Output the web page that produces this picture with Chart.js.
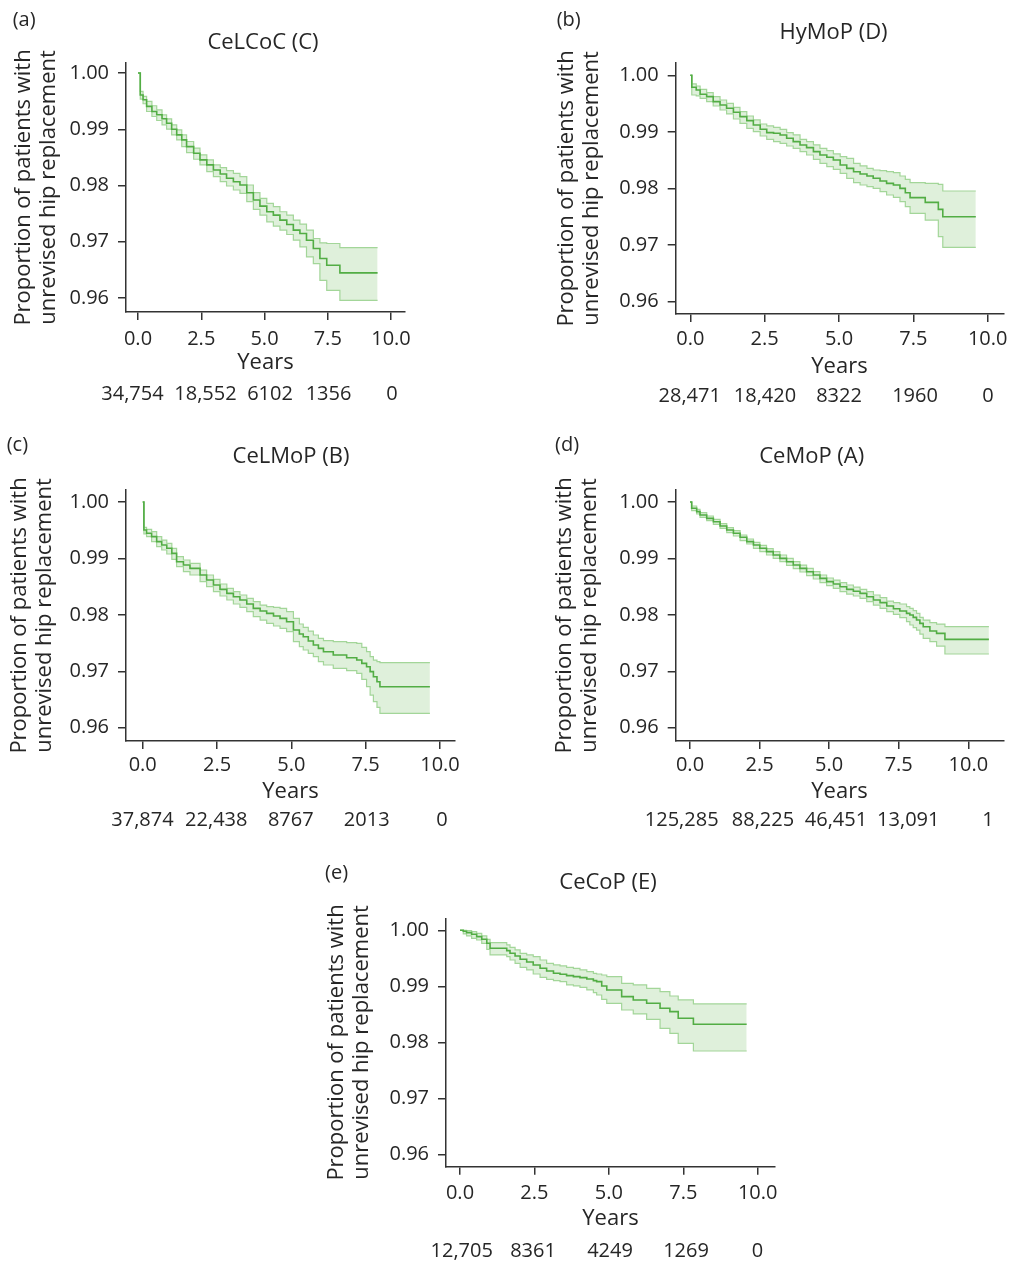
<!DOCTYPE html>
<html>
<head>
<meta charset="utf-8">
<script src="https://cdn.jsdelivr.net/npm/chart.js@4.4.0/dist/chart.umd.min.js"></script>
<style>
html, body { margin: 0; background: #fff; }
body { width: 1012px; height: 1263px; position: relative; overflow: hidden; }
canvas { position: absolute; }
</style>
</head>
<body>
<script>
// panel labels and titles
const panelLetters = ["(a)", "(b)", "(c)", "(d)", "(e)"];
const panelTitles = ["CeLCoC (C)", "HyMoP (D)", "CeLMoP (B)", "CeMoP (A)", "CeCoP (E)"];

// axis ticks
const yearTicks = [0, 2.5, 5, 7.5, 10];
const survTicks = [0.96, 0.97, 0.98, 0.99, 1.00];

// numbers at risk (under 0, 2.5, 5, 7.5, 10 years)
const atRiskA = [34754, 18552, 6102, 1356, 0];
const atRiskB = [28471, 18420, 8322, 1960, 0];
const atRiskC = [37874, 22438, 8767, 2013, 0];
const atRiskD = [125285, 88225, 46451, 13091, 1];
const atRiskE = [12705, 8361, 4249, 1269, 0];

// (a) CeLCoC (C)
const yearsA = [0, 0.09, 0.2, 0.34, 0.55, 0.74, 0.95, 1.13, 1.33, 1.53, 1.73, 1.92, 2.2, 2.45, 2.72, 2.98, 3.25, 3.5, 3.77, 4.03, 4.3, 4.56, 4.82, 5.09, 5.35, 5.61, 5.88, 6.14, 6.4, 6.66, 6.93, 7.19, 7.46, 7.98, 9.47];
const survA = [1, 0.9961, 0.99525, 0.99406, 0.99316, 0.99257, 0.99186, 0.99108, 0.99001, 0.989, 0.98811, 0.98692, 0.98574, 0.98455, 0.98366, 0.98276, 0.98205, 0.98128, 0.98068, 0.98009, 0.97872, 0.97741, 0.97634, 0.97533, 0.97474, 0.97385, 0.97308, 0.97207, 0.97147, 0.97028, 0.9688, 0.96701, 0.96582, 0.96446, 0.96446];
const upperA = [1, 0.99673, 0.99584, 0.99495, 0.99418, 0.99346, 0.99257, 0.99186, 0.99079, 0.9899, 0.989, 0.98782, 0.98663, 0.98544, 0.98455, 0.98366, 0.98318, 0.98264, 0.98217, 0.98157, 0.98009, 0.97872, 0.97771, 0.97682, 0.97623, 0.97533, 0.97474, 0.97385, 0.97314, 0.97207, 0.97058, 0.96981, 0.96969, 0.96897, 0.96897];
const lowerA = [1, 0.99536, 0.99453, 0.99316, 0.99227, 0.99156, 0.99079, 0.99001, 0.989, 0.98811, 0.98692, 0.98585, 0.98467, 0.98366, 0.98247, 0.98158, 0.98068, 0.97991, 0.9792, 0.9786, 0.97712, 0.97575, 0.97474, 0.97355, 0.97278, 0.97207, 0.97129, 0.97028, 0.96909, 0.96731, 0.96612, 0.96315, 0.96137, 0.95958, 0.95958];

// (b) HyMoP (D)
const yearsB = [0, 0.05, 0.2, 0.33, 0.55, 0.77, 1.0, 1.22, 1.45, 1.67, 1.9, 2.12, 2.35, 2.57, 2.8, 3.02, 3.24, 3.46, 3.69, 3.91, 4.14, 4.36, 4.59, 4.81, 5.04, 5.26, 5.49, 5.71, 5.94, 6.15, 6.38, 6.6, 6.83, 7.05, 7.23, 7.39, 7.9, 8.34, 8.49, 9.6];
const survB = [1, 0.99788, 0.99741, 0.99664, 0.99623, 0.99535, 0.99476, 0.99417, 0.99346, 0.9927, 0.99199, 0.99122, 0.99046, 0.98987, 0.98975, 0.98946, 0.98887, 0.98828, 0.98769, 0.98722, 0.98651, 0.98592, 0.98551, 0.98504, 0.98415, 0.98356, 0.98297, 0.98256, 0.98221, 0.9818, 0.98133, 0.98091, 0.98062, 0.98003, 0.97926, 0.97838, 0.97755, 0.97632, 0.97502, 0.97502];
const upperB = [1, 0.99847, 0.99811, 0.99753, 0.99694, 0.99623, 0.99564, 0.99505, 0.99434, 0.99358, 0.99281, 0.99211, 0.9914, 0.99105, 0.99081, 0.99046, 0.98987, 0.98946, 0.98869, 0.98828, 0.98769, 0.9871, 0.98669, 0.9861, 0.98563, 0.98533, 0.98445, 0.98398, 0.98356, 0.98327, 0.98315, 0.98297, 0.9828, 0.98221, 0.98162, 0.98103, 0.98091, 0.98074, 0.97956, 0.97956];
const lowerB = [1, 0.99652, 0.99635, 0.99594, 0.99535, 0.99458, 0.99387, 0.99317, 0.99228, 0.99152, 0.99063, 0.99004, 0.98928, 0.98869, 0.98828, 0.98798, 0.98751, 0.9871, 0.98651, 0.98592, 0.98515, 0.98445, 0.98386, 0.98339, 0.98268, 0.9818, 0.98103, 0.98062, 0.98032, 0.98003, 0.97944, 0.97885, 0.97844, 0.97767, 0.97679, 0.97561, 0.97443, 0.97149, 0.9696, 0.9696];

// (c) CeLMoP (B)
const yearsC = [0, 0.04, 0.13, 0.3, 0.47, 0.64, 0.81, 0.98, 1.14, 1.37, 1.59, 1.93, 2.15, 2.38, 2.6, 2.83, 3.05, 3.27, 3.5, 3.72, 3.95, 4.17, 4.4, 4.62, 4.84, 5.07, 5.27, 5.4, 5.57, 5.74, 5.91, 6.08, 6.41, 6.86, 7.2, 7.37, 7.53, 7.65, 7.76, 7.88, 7.98, 9.66];
const survC = [1, 0.99504, 0.99445, 0.99386, 0.99297, 0.99238, 0.99179, 0.9909, 0.98942, 0.98883, 0.98824, 0.98706, 0.98617, 0.98529, 0.98452, 0.98381, 0.98322, 0.98263, 0.98192, 0.98115, 0.98068, 0.98027, 0.97979, 0.97938, 0.97879, 0.97731, 0.9766, 0.97613, 0.97536, 0.97465, 0.97406, 0.97347, 0.97288, 0.97241, 0.97199, 0.9714, 0.97081, 0.96993, 0.96904, 0.96815, 0.96727, 0.96727];
const upperC = [1, 0.99551, 0.99516, 0.99474, 0.99386, 0.99326, 0.99267, 0.99179, 0.99031, 0.98972, 0.98913, 0.98795, 0.98706, 0.98629, 0.98547, 0.9847, 0.98411, 0.98352, 0.98292, 0.98233, 0.98174, 0.98145, 0.98133, 0.98115, 0.98056, 0.97938, 0.97838, 0.97778, 0.97713, 0.97643, 0.97583, 0.97542, 0.97524, 0.97507, 0.97495, 0.97424, 0.97347, 0.97258, 0.97199, 0.9717, 0.97152, 0.97152];
const lowerC = [1, 0.99433, 0.99386, 0.99297, 0.99208, 0.99149, 0.99078, 0.98984, 0.98854, 0.98765, 0.98706, 0.98588, 0.98499, 0.98411, 0.98334, 0.98263, 0.98192, 0.98133, 0.98056, 0.97968, 0.97908, 0.97849, 0.97802, 0.97761, 0.97702, 0.97524, 0.97436, 0.97377, 0.97318, 0.97258, 0.9717, 0.97111, 0.97052, 0.9701, 0.96963, 0.96857, 0.96727, 0.96579, 0.96461, 0.9636, 0.96254, 0.96254];

// (d) CeMoP (A)
const yearsD = [0, 0.06, 0.24, 0.36, 0.6, 0.84, 1.08, 1.32, 1.56, 1.8, 2.04, 2.28, 2.51, 2.75, 2.99, 3.23, 3.47, 3.71, 3.95, 4.19, 4.43, 4.67, 4.91, 5.15, 5.39, 5.63, 5.87, 6.11, 6.35, 6.59, 6.83, 7.07, 7.31, 7.54, 7.78, 7.9, 8.02, 8.14, 8.26, 8.38, 8.62, 8.86, 9.16, 10.74];
const survD = [1, 0.99888, 0.99829, 0.9977, 0.9971, 0.99651, 0.99575, 0.99504, 0.99445, 0.99374, 0.99297, 0.99238, 0.99179, 0.9912, 0.99061, 0.99001, 0.98942, 0.98883, 0.98824, 0.98765, 0.98706, 0.98647, 0.98588, 0.98547, 0.98499, 0.98452, 0.98417, 0.98381, 0.98322, 0.98263, 0.98216, 0.98157, 0.98109, 0.98068, 0.98027, 0.97997, 0.97956, 0.97908, 0.97849, 0.9779, 0.97713, 0.97672, 0.97566, 0.97566];
const upperD = [1, 0.99929, 0.9987, 0.99811, 0.99752, 0.99693, 0.99616, 0.99545, 0.99492, 0.99415, 0.99344, 0.99285, 0.99232, 0.99173, 0.9912, 0.99061, 0.99001, 0.98942, 0.98883, 0.98824, 0.98765, 0.98706, 0.98653, 0.98617, 0.9857, 0.98529, 0.98493, 0.98452, 0.98411, 0.98352, 0.98304, 0.98245, 0.98216, 0.98192, 0.98145, 0.98115, 0.98074, 0.98027, 0.97956, 0.97908, 0.97861, 0.97837, 0.9779, 0.9779];
const lowerD = [1, 0.99846, 0.99787, 0.99728, 0.99669, 0.99604, 0.99533, 0.99456, 0.99397, 0.99315, 0.99256, 0.99179, 0.9912, 0.99061, 0.99001, 0.98942, 0.98877, 0.98818, 0.98759, 0.98694, 0.98635, 0.9857, 0.98517, 0.9847, 0.98411, 0.98369, 0.98334, 0.98292, 0.98233, 0.98174, 0.98115, 0.98056, 0.98009, 0.9795, 0.97879, 0.9782, 0.97773, 0.97731, 0.9766, 0.97583, 0.97524, 0.97447, 0.97306, 0.97306];

// (e) CeCoP (E)
const yearsE = [0, 0.11, 0.22, 0.39, 0.56, 0.73, 0.9, 1.01, 1.57, 1.68, 1.85, 2.02, 2.24, 2.46, 2.69, 2.91, 3.14, 3.36, 3.58, 3.81, 4.03, 4.26, 4.48, 4.59, 4.76, 4.93, 5.43, 5.82, 6.27, 6.72, 7.05, 7.33, 7.84, 9.63];
const survE = [1, 0.99982, 0.99958, 0.99929, 0.99887, 0.99839, 0.99768, 0.99679, 0.99637, 0.99589, 0.99542, 0.99482, 0.99435, 0.99381, 0.99321, 0.99274, 0.99232, 0.99214, 0.9919, 0.99173, 0.99155, 0.99131, 0.99101, 0.99083, 0.99006, 0.98935, 0.98815, 0.98756, 0.98696, 0.98607, 0.98548, 0.98429, 0.98321, 0.98321];
const upperE = [1, 1, 0.99994, 0.99976, 0.99946, 0.99899, 0.99839, 0.9978, 0.99738, 0.99696, 0.99649, 0.99589, 0.9956, 0.9953, 0.9947, 0.99411, 0.99381, 0.99363, 0.99339, 0.99321, 0.99292, 0.99262, 0.99232, 0.9922, 0.99202, 0.99173, 0.99054, 0.99024, 0.98964, 0.98905, 0.98827, 0.98756, 0.98685, 0.98685];
const lowerE = [1, 0.99935, 0.99899, 0.99857, 0.99827, 0.99768, 0.99661, 0.9956, 0.9953, 0.9947, 0.99411, 0.99339, 0.99292, 0.9922, 0.99161, 0.99125, 0.99101, 0.99083, 0.99024, 0.99006, 0.98982, 0.98935, 0.98887, 0.98845, 0.98768, 0.98696, 0.98577, 0.98506, 0.98411, 0.9825, 0.98161, 0.97982, 0.97845, 0.97845];

const curves = [
    { years: yearsA, surv: survA, upper: upperA, lower: lowerA, atRisk: atRiskA },
    { years: yearsB, surv: survB, upper: upperB, lower: lowerB, atRisk: atRiskB },
    { years: yearsC, surv: survC, upper: upperC, lower: lowerC, atRisk: atRiskC },
    { years: yearsD, surv: survD, upper: upperD, lower: lowerD, atRisk: atRiskD },
    { years: yearsE, surv: survE, upper: upperE, lower: lowerE, atRisk: atRiskE },
];

// page positions of each panel (plot box, tick calibration, text rows, risk label centres)
const layouts = [
    { letterX: 12.7, letterY: 20, titleX: 263, titleY: 42.5, left: 126, top: 63, right: 405, bottom: 312,
      x0: 138, x10: 391, y100: 73, y096: 298, tickY: 339, yearsY: 363, riskY: 394, yTitleX: 24,
      riskPx: [132.5, 205.5, 270, 328.5, 392] },
    { letterX: 556.7, letterY: 20, titleX: 833.5, titleY: 32.5, left: 675.7, top: 63, right: 1003.3, bottom: 314,
      x0: 690.3, x10: 987.7, y100: 75.3, y096: 301.7, tickY: 339, yearsY: 367, riskY: 396, yTitleX: 566.7,
      riskPx: [689.7, 765, 839, 915, 988] },
    { letterX: 6.7, letterY: 445, titleX: 291, titleY: 456.7, left: 126, top: 490, right: 455, bottom: 741,
      x0: 142.7, x10: 440, y100: 502, y096: 727.7, tickY: 765, yearsY: 791.7, riskY: 820, yTitleX: 20,
      riskPx: [142.5, 216.3, 290.8, 366.7, 442] },
    { letterX: 555, letterY: 445, titleX: 811.7, titleY: 456.7, left: 675.7, top: 490, right: 1003.3, bottom: 741,
      x0: 690, x10: 968.3, y100: 502, y096: 727.7, tickY: 765, yearsY: 791.7, riskY: 820, yTitleX: 565,
      riskPx: [681.7, 763, 836, 908.3, 988] },
    { letterX: 325, letterY: 873, titleX: 608, titleY: 883, left: 446, top: 918.3, right: 775, bottom: 1166.7,
      x0: 460, x10: 757.7, y100: 930.3, y096: 1154.3, tickY: 1193.3, yearsY: 1218.3, riskY: 1251.7, yTitleX: 336.7,
      riskPx: [461.7, 533, 610, 686, 757.5] },
];

const textColor = '#262626';
const axisColor = '#333333';
const lineGreen = '#52ad44';
const bandEdge = '#a3d699';
const bandFill = 'rgba(110,185,90,0.22)';
const fontFamily = '"Open Sans", "DejaVu Sans", sans-serif';

Chart.defaults.font.family = fontFamily;
Chart.defaults.color = textColor;

function fmtRisk(n) {
    return n >= 10000 ? n.toLocaleString('en-US') : String(n);
}

function points(xs, ys) {
    return xs.map((x, i) => ({ x: x, y: ys[i] }));
}

function makePanel(i) {
    const L = layouts[i];
    const c = curves[i];

    const cL = Math.floor(L.yTitleX - 14.5);
    const cT = Math.floor(L.letterY - 16);
    const cR = Math.ceil(L.right + 16);
    const cB = Math.min(1263, Math.ceil(L.riskY + 12));

    const canvas = document.createElement('canvas');
    canvas.width = cR - cL;
    canvas.height = cB - cT;
    canvas.style.left = cL + 'px';
    canvas.style.top = cT + 'px';
    document.body.appendChild(canvas);

    const pxYear = (L.x10 - L.x0) / 10;
    const xMin = (L.left - L.x0) / pxYear;
    const xMax = (L.right - L.x0) / pxYear;
    const pxUnit = (L.y096 - L.y100) / 0.04;
    const yMax = 1 + (L.y100 - L.top) / pxUnit;
    const yMin = 0.96 - (L.bottom - L.y096) / pxUnit;

    // risk labels sit at the printed table columns, converted to axis values
    const riskAt = L.riskPx.map(px => (px - L.x0) / pxYear);

    const yAxisW = L.left - cL;
    const xAxisH = L.yearsY + 12 - L.bottom;
    const riskH = cB - L.bottom - xAxisH;

    const panelText = {
        id: 'panelText',
        afterDraw(chart) {
            const ctx = chart.ctx;
            ctx.save();
            ctx.fillStyle = textColor;
            ctx.textBaseline = 'middle';
            ctx.font = '20px ' + fontFamily;
            ctx.textAlign = 'left';
            ctx.fillText(panelLetters[i], L.letterX - cL, L.letterY - cT);
            ctx.font = '22px ' + fontFamily;
            ctx.textAlign = 'center';
            ctx.fillText(panelTitles[i], L.titleX - cL, L.titleY - cT);
            ctx.restore();
        }
    };

    new Chart(canvas, {
        type: 'line',
        data: {
            datasets: [
                {
                    data: points(c.years, c.surv),
                    borderColor: lineGreen,
                    borderWidth: 1.6,
                    stepped: true,
                    pointRadius: 0,
                    fill: false,
                },
                {
                    data: points(c.years, c.upper),
                    borderColor: bandEdge,
                    borderWidth: 1.2,
                    stepped: true,
                    pointRadius: 0,
                    fill: false,
                },
                {
                    data: points(c.years, c.lower),
                    borderColor: bandEdge,
                    borderWidth: 1.2,
                    backgroundColor: bandFill,
                    stepped: true,
                    pointRadius: 0,
                    fill: '-1',
                },
            ]
        },
        options: {
            responsive: false,
            animation: false,
            devicePixelRatio: 1,
            layout: { padding: { left: 0, top: L.top - cT, right: cR - L.right, bottom: 0 } },
            plugins: { legend: { display: false }, tooltip: { enabled: false } },
            scales: {
                x: {
                    type: 'linear',
                    min: xMin,
                    max: xMax,
                    afterBuildTicks: s => { s.ticks = yearTicks.map(v => ({ value: v })); },
                    afterFit: s => { s.height = xAxisH; },
                    ticks: {
                        autoSkip: false, maxRotation: 0,
                        padding: L.tickY - L.bottom - 8 - 12,
                        font: { size: 20, lineHeight: '24px' },
                        color: textColor,
                        callback: v => v.toFixed(1),
                    },
                    grid: { drawOnChartArea: false, drawTicks: true, tickLength: 8, color: axisColor, lineWidth: 1.5 },
                    border: { display: true, color: axisColor, width: 1.5 },
                    title: { display: true, text: 'Years', color: textColor, font: { size: 22, lineHeight: '24px' }, padding: 0 },
                },
                risk: {
                    axis: 'x',
                    type: 'linear',
                    position: 'bottom',
                    weight: 1,
                    min: xMin,
                    max: xMax,
                    afterBuildTicks: s => { s.ticks = riskAt.map(v => ({ value: v })); },
                    afterFit: s => { s.height = riskH; },
                    ticks: {
                        autoSkip: false, maxRotation: 0,
                        padding: L.riskY - (L.bottom + xAxisH) - 12,
                        font: { size: 20, lineHeight: '24px' },
                        color: textColor,
                        callback: (v, idx) => fmtRisk(c.atRisk[idx]),
                    },
                    grid: { display: false, drawTicks: false },
                    border: { display: false },
                },
                y: {
                    type: 'linear',
                    min: yMin,
                    max: yMax,
                    afterBuildTicks: s => { s.ticks = survTicks.map(v => ({ value: v })); },
                    afterFit: s => { s.width = yAxisW; },
                    ticks: {
                        padding: 9,
                        font: { size: 20, lineHeight: '24px' },
                        color: textColor,
                        callback: v => v.toFixed(2),
                    },
                    grid: { drawOnChartArea: false, drawTicks: true, tickLength: 8, color: axisColor, lineWidth: 1.5 },
                    border: { display: true, color: axisColor, width: 1.5 },
                    title: {
                        display: true,
                        text: ['Proportion of patients with', 'unrevised hip replacement'],
                        color: textColor,
                        font: { size: 22, lineHeight: '25px' },
                        padding: { top: L.yTitleX - cL - 12.5, bottom: 0 },
                    },
                },
            },
        },
        plugins: [panelText],
    });
}

for (let i = 0; i < layouts.length; i++) {
    makePanel(i);
}
</script>
</body>
</html>
